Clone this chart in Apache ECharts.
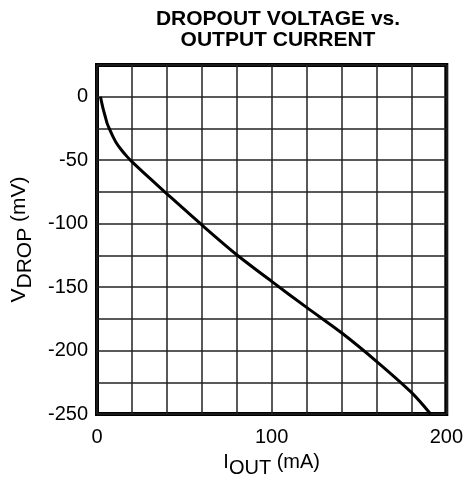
<!DOCTYPE html>
<html><head><meta charset="utf-8">
<script src="https://cdn.jsdelivr.net/npm/echarts@6/dist/echarts.min.js"></script>
<style>html,body{margin:0;padding:0;background:#fff}#c{width:466px;height:484px}</style>
</head><body><div id="c"></div>
<script>
const current = [2, 2.6, 3.6, 4.6, 5.8, 7, 9, 11.1, 14, 17.1, 19.5, 30, 40, 60, 80, 100, 120, 140, 160, 180, 191];
const vdrop   = [0, -4, -10, -15, -21, -25, -31, -36.5, -42, -47, -50.5, -64, -76.5, -101, -124.5, -145.5, -166, -186, -208.5, -233, -250];
const xTicks = [0, 100, 200];
const yTicks = [0, -50, -100, -150, -200, -250];
const titleLines = ['DROPOUT VOLTAGE vs.', 'OUTPUT CURRENT'];

const chart = echarts.init(document.getElementById('c'), null, {renderer: 'canvas'});
const FONT = 'Liberation Sans, Arial, sans-serif';
const FS = 20;
chart.setOption({
  animation: false,
  backgroundColor: '#fff',
  grid: {left: 97, right: 15, top: 65, bottom: 70, show: true, borderColor: '#000', borderWidth: 4, containLabel: false},
  graphic: [
    {type: 'text', x: 278, y: 19.5, z: 10,
     style: {text: titleLines[0], textAlign: 'center', textVerticalAlign: 'middle', align: 'center', verticalAlign: 'middle', font: 'bold 21px ' + FONT, fill: '#000'}},
    {type: 'text', x: 278, y: 40.5, z: 10,
     style: {text: titleLines[1], textAlign: 'center', textVerticalAlign: 'middle', align: 'center', verticalAlign: 'middle', font: 'bold 21px ' + FONT, fill: '#000'}}
  ],
  xAxis: {
    type: 'value', min: 0, max: 200, interval: 20,
    axisLine: {show: false}, axisTick: {show: false},
    splitLine: {show: true, lineStyle: {color: '#222', width: 1.5}},
    axisLabel: {fontFamily: FONT, fontSize: FS, color: '#000', margin: 13,
      formatter: v => xTicks.includes(v) ? String(v) : ''},
    name: '{i|I}{s|OUT}{m| (mA)}', nameLocation: 'middle', nameGap: 38,
    nameTextStyle: {rich: {
      i: {fontFamily: FONT, fontSize: FS, color: '#000', verticalAlign: 'top', lineHeight: 20},
      s: {fontFamily: FONT, fontSize: FS, color: '#000', verticalAlign: 'top', lineHeight: 20, padding: [6, 0, 0, 0]},
      m: {fontFamily: FONT, fontSize: FS, color: '#000', verticalAlign: 'top', lineHeight: 20}
    }}
  },
  yAxis: {
    type: 'value', min: -250, max: 25, interval: 25,
    axisLine: {show: false}, axisTick: {show: false},
    splitLine: {show: true, lineStyle: {color: '#222', width: 1.5}},
    axisLabel: {fontFamily: FONT, fontSize: FS, color: '#000', margin: 9,
      formatter: v => yTicks.includes(v) ? String(v) : ''},
    name: '{v|V}{s|DROP}{m| (mV)}', nameLocation: 'middle', nameGap: 67, nameRotate: 90,
    nameTextStyle: {rich: {
      v: {fontFamily: FONT, fontSize: 21, color: '#000', verticalAlign: 'top', lineHeight: 21},
      s: {fontFamily: FONT, fontSize: 21, color: '#000', verticalAlign: 'top', lineHeight: 21, padding: [6, 0, 0, 0]},
      m: {fontFamily: FONT, fontSize: 21, color: '#000', verticalAlign: 'top', lineHeight: 21}
    }}
  },
  series: [{
    type: 'line', data: current.map((c, i) => [c, vdrop[i]]),
    smooth: 0.3, showSymbol: false,
    lineStyle: {color: '#000', width: 3}
  }]
});
</script></body></html>
